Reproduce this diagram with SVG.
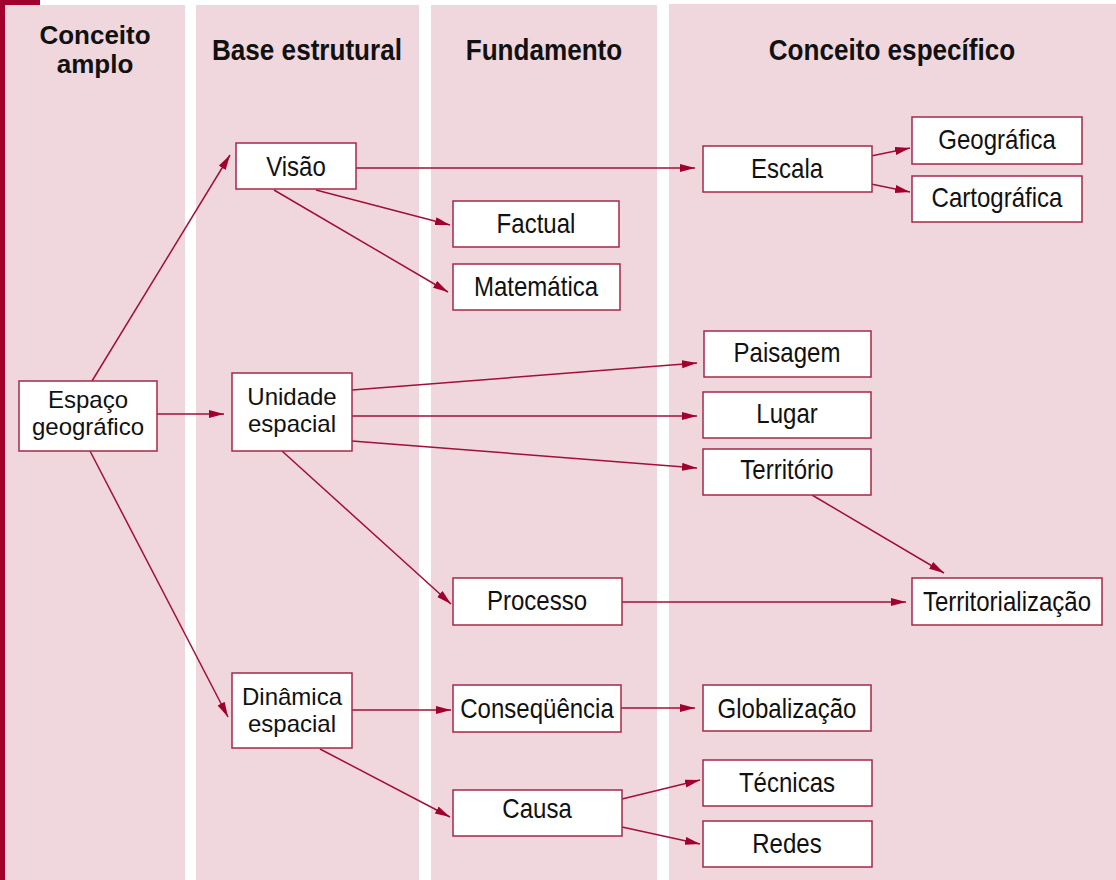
<svg xmlns="http://www.w3.org/2000/svg" width="1116" height="880" viewBox="0 0 1116 880">
<style>
.col{fill:#EFD7DD}
.bar{fill:#A0002B}
.box{fill:#fff;stroke:#A62848;stroke-width:1.5}
.hd{font-family:"Liberation Sans",Arial,sans-serif;font-weight:bold;font-size:29px;fill:#111;text-anchor:middle;transform-box:fill-box;transform-origin:center;transform:scaleX(0.9)}
.hd2{font-family:"Liberation Sans",Arial,sans-serif;font-weight:bold;font-size:26px;fill:#111;text-anchor:middle}
.tx{font-family:"Liberation Sans",Arial,sans-serif;font-size:27px;fill:#111;text-anchor:middle;transform-box:fill-box;transform-origin:center;transform:scaleX(0.89)}
.tx2{font-family:"Liberation Sans",Arial,sans-serif;font-size:24px;fill:#111;text-anchor:middle}
.cn line{stroke:#A0103A;stroke-width:1.5;marker-end:url(#ah)}
</style>
<defs>
<marker id="ah" markerUnits="userSpaceOnUse" markerWidth="16" markerHeight="10" refX="15" refY="4" orient="auto">
<path d="M0,0 L15,4 L0,8 z" fill="#A0002B"/>
</marker>
</defs>
<rect width="1116" height="880" fill="#fff"/>
<rect class="bar" x="0" y="0" width="5" height="880"/>
<rect class="bar" x="0" y="0" width="40" height="5"/>
<rect class="col" x="5" y="5" width="180" height="875"/>
<rect class="col" x="196" y="5" width="223" height="875"/>
<rect class="col" x="431" y="5" width="226" height="875"/>
<rect class="col" x="669" y="4" width="447" height="876"/>
<g id="headers">
<text class="hd2" x="95" y="44">Conceito</text>
<text class="hd2" x="95" y="73">amplo</text>
<text class="hd" x="307" y="60">Base estrutural</text>
<text class="hd" x="544" y="60">Fundamento</text>
<text class="hd" x="892" y="60">Conceito específico</text>
</g>
<g class="cn" id="connectors">
<line x1="92" y1="381" x2="230" y2="155"/>
<line x1="157" y1="414" x2="224" y2="414"/>
<line x1="90" y1="451" x2="228" y2="717"/>
<line x1="356" y1="168" x2="695" y2="168"/>
<line x1="316" y1="190" x2="450" y2="225"/>
<line x1="274" y1="190" x2="448" y2="292"/>
<line x1="352" y1="390" x2="697" y2="363"/>
<line x1="352" y1="416" x2="697" y2="416"/>
<line x1="352" y1="441" x2="697" y2="468"/>
<line x1="282" y1="451" x2="451" y2="604"/>
<line x1="622" y1="602" x2="906" y2="602"/>
<line x1="812" y1="495" x2="944" y2="573"/>
<line x1="871" y1="156" x2="910" y2="148"/>
<line x1="871" y1="184" x2="910" y2="192"/>
<line x1="352" y1="710" x2="451" y2="710"/>
<line x1="621" y1="708" x2="695" y2="708"/>
<line x1="320" y1="749" x2="450" y2="817"/>
<line x1="622" y1="799" x2="700" y2="780"/>
<line x1="622" y1="827" x2="700" y2="844"/>
</g>
<g id="n-espaco"><rect class="box" x="19" y="381" width="138" height="70"/><text class="tx2" x="88" y="408">Espaço</text><text class="tx2" x="88" y="435">geográfico</text></g>
<g id="n-unidade"><rect class="box" x="232" y="373" width="120" height="78"/><text class="tx2" x="292" y="405">Unidade</text><text class="tx2" x="292" y="432">espacial</text></g>
<g id="n-dinamica"><rect class="box" x="232" y="673" width="120" height="75"/><text class="tx2" x="292" y="705">Dinâmica</text><text class="tx2" x="292" y="732">espacial</text></g>
<g id="n-visao"><rect class="box" x="236" y="143" width="120" height="46"/><text class="tx" x="296" y="176">Visão</text></g>
<g id="n-factual"><rect class="box" x="453" y="201" width="166" height="46"/><text class="tx" x="536" y="233">Factual</text></g>
<g id="n-matematica"><rect class="box" x="453" y="264" width="167" height="46"/><text class="tx" x="536" y="296">Matemática</text></g>
<g id="n-processo"><rect class="box" x="453" y="578" width="169" height="47"/><text class="tx" x="537" y="610">Processo</text></g>
<g id="n-consequencia"><rect class="box" x="453" y="685" width="168" height="47"/><text class="tx" x="537" y="718">Conseqüência</text></g>
<g id="n-causa"><rect class="box" x="453" y="790" width="169" height="46"/><text class="tx" x="537" y="818">Causa</text></g>
<g id="n-escala"><rect class="box" x="703" y="146" width="169" height="46"/><text class="tx" x="787" y="178">Escala</text></g>
<g id="n-geografica"><rect class="box" x="912" y="117" width="170" height="47"/><text class="tx" x="997" y="149">Geográfica</text></g>
<g id="n-cartografica"><rect class="box" x="912" y="176" width="170" height="46"/><text class="tx" x="997" y="207">Cartográfica</text></g>
<g id="n-paisagem"><rect class="box" x="704" y="331" width="167" height="46"/><text class="tx" x="787" y="362">Paisagem</text></g>
<g id="n-lugar"><rect class="box" x="703" y="392" width="168" height="46"/><text class="tx" x="787" y="423">Lugar</text></g>
<g id="n-territorio"><rect class="box" x="703" y="449" width="168" height="46"/><text class="tx" x="787" y="479">Território</text></g>
<g id="n-territorializacao"><rect class="box" x="912" y="578" width="190" height="47"/><text class="tx" x="1007" y="611">Territorialização</text></g>
<g id="n-globalizacao"><rect class="box" x="703" y="685" width="168" height="46"/><text class="tx" x="787" y="718">Globalização</text></g>
<g id="n-tecnicas"><rect class="box" x="703" y="760" width="169" height="46"/><text class="tx" x="787" y="792">Técnicas</text></g>
<g id="n-redes"><rect class="box" x="703" y="821" width="169" height="46"/><text class="tx" x="787" y="853">Redes</text></g>
</svg>
